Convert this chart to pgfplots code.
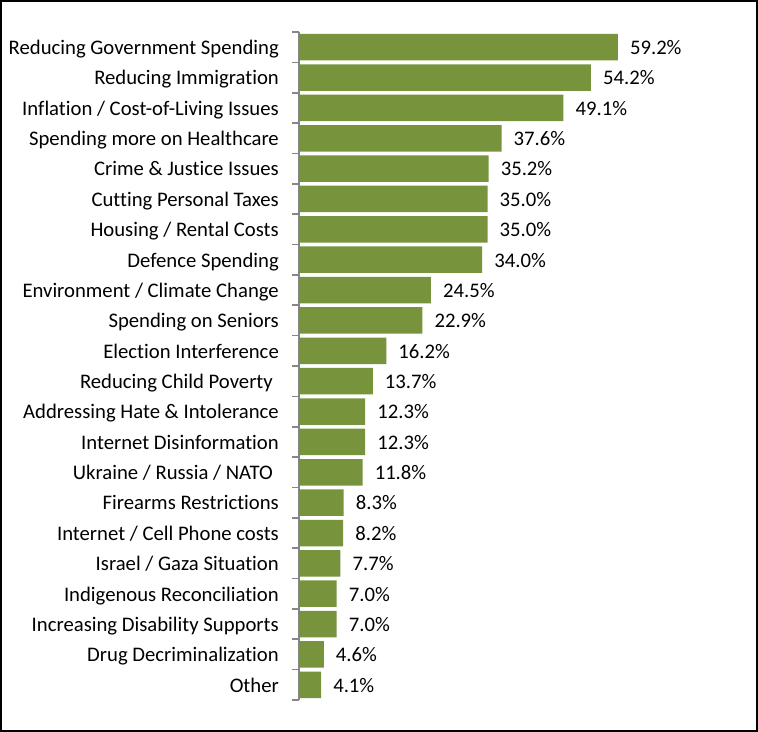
\documentclass[border=0pt]{standalone}
\usepackage{pgfplots}
\pgfplotsset{compat=1.18}
\usepackage{fontspec}
\setmainfont{Carlito}[Ligatures={NoCommon}]
\definecolor{barolive}{RGB}{119,147,60}
\definecolor{axgray}{RGB}{134,134,134}
\newcommand{\lblfont}{\fontsize{20.7bp}{24bp}\selectfont}
\begin{document}
\begin{tikzpicture}[x=1bp,y=1bp]
\draw[line width=2bp] (1,1) rectangle (757,731);
\begin{axis}[
  at={(299bp,32bp)}, anchor=south west,
  scale only axis, width=377bp, height=668bp,
  xbar, bar width=26.5bp,
  xmin=0, xmax=70, ymin=-0.5, ymax=21.5, y dir=reverse,
  axis lines*=left,
  x axis line style={draw=none},
  y axis line style={axgray, line width=1.6bp},
  xtick=\empty,
  ytick={0,...,21},
  major tick length=0pt,
  minor ytick={-0.5,0.5,...,21.5},
  minor tick length=7bp,
  tick align=outside,
  minor tick style={axgray, line width=1.6bp},
  yticklabels={Reducing Government Spending, Reducing Immigration, Inflation / Cost-of-Living Issues, Spending more on Healthcare, Crime \& Justice Issues, Cutting Personal Taxes, Housing / Rental Costs, Defence Spending, Environment / Climate Change, Spending on Seniors, Election Interference, {Reducing Child Poverty\rule{6bp}{0pt}}, Addressing Hate \& Intolerance, Internet Disinformation, {Ukraine / Russia / NATO\rule{6bp}{0pt}}, Firearms Restrictions, Internet / Cell Phone costs, Israel / Gaza Situation, Indigenous Reconciliation, Increasing Disability Supports, Drug Decriminalization, Other},
  yticklabel style={font=\lblfont, anchor=base east, inner sep=0pt, xshift=-20bp, yshift=-7.3bp, text=black},
  clip=false,
  nodes near coords={\pgfmathprintnumber[fixed,fixed zerofill,precision=1,assume math mode=true]{\pgfplotspointmeta}\%},
  every node near coord/.append style={font=\lblfont, anchor=base west, inner sep=0pt, xshift=12bp, yshift=-7.3bp, text=black},
]
\addplot[fill=barolive, draw=none] coordinates {
(59.2,0) (54.2,1) (49.1,2) (37.6,3) (35.2,4) (35.0,5) (35.0,6) (34.0,7)
(24.5,8) (22.9,9) (16.2,10) (13.7,11) (12.3,12) (12.3,13) (11.8,14) (8.3,15)
(8.2,16) (7.7,17) (7.0,18) (7.0,19) (4.6,20) (4.1,21)
};
\end{axis}
\end{tikzpicture}
\end{document}
